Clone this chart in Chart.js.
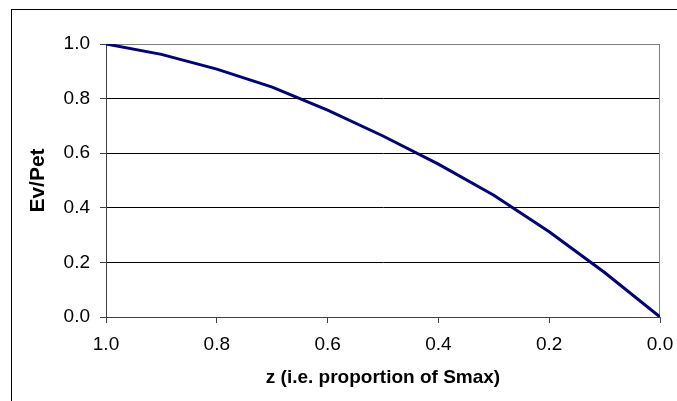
<!DOCTYPE html>
<html>
<head>
<meta charset="utf-8">
<script src="https://cdn.jsdelivr.net/npm/chart.js@4/dist/chart.umd.min.js"></script>
<style>
  html, body { margin: 0; padding: 0; background: #fff; overflow: hidden; }
  #wrap { position: relative; width: 677px; height: 401px; }
  #frame { position: absolute; left: 11px; top: 9px; width: 720px; height: 440px; border: 1px solid #000; box-sizing: border-box; }
  canvas { position: absolute; left: 0; top: 0; }
</style>
</head>
<body>
<div id="wrap">
  <div id="frame"></div>
  <canvas id="c" width="677" height="401"></canvas>
</div>
<script>
// z (proportion of Smax)
const zValues = [1.0, 0.9, 0.8, 0.7, 0.6, 0.5, 0.4, 0.3, 0.2, 0.1, 0.0];
// Ev/Pet
const evPet = [1.0, 0.962, 0.908, 0.842, 0.758, 0.663, 0.56, 0.446, 0.312, 0.163, 0.0];
const xTitle = 'z (i.e. proportion of Smax)';
const yTitle = 'Ev/Pet';

const FONT = '"Liberation Sans", Arial, sans-serif';

const plotBorder = {
  id: 'plotBorder',
  beforeDatasetsDraw(chart) {
    const {ctx, chartArea: a} = chart;
    ctx.save();
    ctx.strokeStyle = '#808080';
    ctx.lineWidth = 1;
    ctx.beginPath();
    ctx.moveTo(a.left, a.top + 0.5);
    ctx.lineTo(a.right - 0.5, a.top + 0.5);
    ctx.lineTo(a.right - 0.5, a.bottom);
    ctx.stroke();
    ctx.restore();
  }
};

new Chart(document.getElementById('c'), {
  type: 'line',
  data: {
    datasets: [{
      data: zValues.map((z, i) => ({x: z, y: evPet[i]})),
      borderColor: '#000080',
      borderWidth: 3,
      pointRadius: 0,
      tension: 0,
      fill: false
    }]
  },
  options: {
    responsive: false,
    animation: false,
    layout: { padding: { left: 0, top: 44, right: 17, bottom: 0 } },
    plugins: { legend: { display: false }, tooltip: { enabled: false } },
    scales: {
      x: {
        type: 'linear',
        reverse: true,
        min: 0, max: 1,
        afterFit(s) { s.height = 84; s.paddingLeft = 0; s.paddingRight = 0; },
        border: { color: '#404040', width: 1 },
        grid: { drawOnChartArea: false, tickLength: 6, tickColor: '#404040' },
        ticks: {
          stepSize: 0.2, padding: 10, color: '#000',
          font: { family: FONT, size: 19 },
          callback: v => Number(v).toFixed(1)
        },
        title: {
          display: true, text: xTitle, color: '#000',
          font: { family: FONT, size: 19, weight: 'bold' },
          padding: { top: 0, bottom: 12 }
        }
      },
      y: {
        type: 'linear',
        min: 0, max: 1,
        afterFit(s) { s.width = 106; s.paddingTop = 0; s.paddingBottom = 0; },
        border: { color: '#404040', width: 1 },
        grid: {
          color: c => (c.tick && c.tick.value >= 0.999) ? '#808080' : '#000',
          tickLength: 6, tickColor: '#404040'
        },
        ticks: {
          stepSize: 0.2, padding: 10, color: '#000',
          font: { family: FONT, size: 19 },
          callback: v => Number(v).toFixed(1)
        },
        title: {
          display: true, text: yTitle, color: '#000',
          font: { family: FONT, size: 21, weight: 'bold' },
          padding: { top: 26, bottom: 0 }
        }
      }
    }
  },
  plugins: [plotBorder]
});
</script>
</body>
</html>
